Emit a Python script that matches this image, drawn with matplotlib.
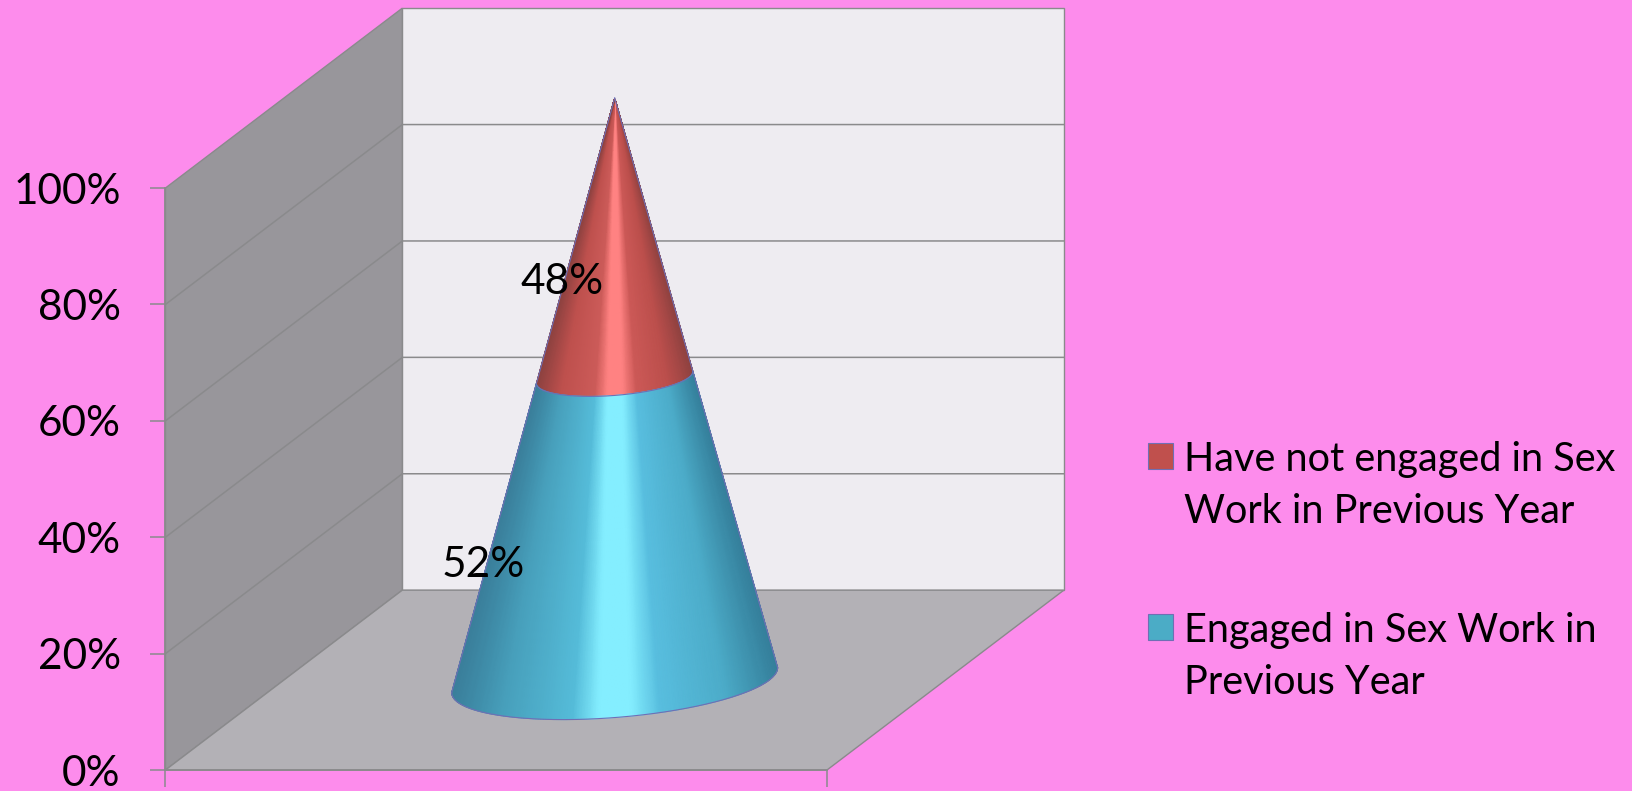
import numpy as np
import matplotlib
matplotlib.use("Agg")
import matplotlib.pyplot as plt
from matplotlib.colors import LinearSegmentedColormap
from matplotlib.legend_handler import HandlerPatch
from matplotlib.patches import Patch, Polygon, Rectangle

plt.rcParams['font.family'] = ['Lato', 'DejaVu Sans']

# chart values
series_names = ["Engaged in Sex Work in\nPrevious Year",
                "Have not engaged in Sex\nWork in Previous Year"]
series_values = [52, 48]
value_labels = ["52%", "48%"]
y_ticks = [0, 20, 40, 60, 80, 100]
y_tick_labels = ["0%", "20%", "40%", "60%", "80%", "100%"]

# looks
bg = "#FD8CEC"
back_wall = "#EEECF1"
side_wall = "#98969B"
floor = "#B3B1B6"
grid_col = "#8A8A8C"
blue = "#4BACC6"
red = "#C0504D"
blue_stops = [(0.0, "#35809C"), (0.07, "#3F93AF"), (0.16, "#4CACC9"), (0.36, "#58BEDF"), (0.45, "#84EEFF"),
              (0.55, "#84EEFF"), (0.63, "#55BCD9"), (0.85, "#479FBB"), (0.93, "#3F8DA9"), (1.0, "#3A7F9B")]
red_stops = [(0.0, "#8F4240"), (0.07, "#A54846"), (0.16, "#BC4F4C"), (0.36, "#CC5957"), (0.45, "#FF8282"),
             (0.55, "#FF8282"), (0.63, "#CC5B59"), (0.85, "#BE504D"), (0.93, "#A54846"), (1.0, "#8F4240")]

# oblique depth of the 3d box, in axis units
depth_x = 0.358
depth_y = 30.9
# base of the cone
half_x = 0.2464
tilt_y = 2.15
front_y = 6.44

fig = plt.figure(figsize=(16.33, 7.91), dpi=100, facecolor=bg)
ax = fig.add_axes([165.5 / 1633, 21 / 791, 661.5 / 1633, 582 / 791])
ax.patch.set_alpha(0)

# walls and floor
top = y_ticks[-1]
ax.add_patch(Polygon([(depth_x, depth_y), (1 + depth_x, depth_y), (1 + depth_x, top + depth_y), (depth_x, top + depth_y)],
                     fc=back_wall, ec=grid_col, lw=1, clip_on=False, zorder=1))
ax.add_patch(Polygon([(0, 0), (depth_x, depth_y), (depth_x, top + depth_y), (0, top)],
                     fc=side_wall, ec=grid_col, lw=1, clip_on=False, zorder=1))
ax.add_patch(Polygon([(0, 0), (1, 0), (1 + depth_x, depth_y), (depth_x, depth_y)],
                     fc=floor, ec=grid_col, lw=1, clip_on=False, zorder=1))
for t in y_ticks[1:-1]:
    ax.plot([0, depth_x, 1 + depth_x], [t, t + depth_y, t + depth_y], color=grid_col, lw=1.1,
            clip_on=False, zorder=2)


def cone_points(s, t):
    # s = 0 at the apex, s = 1 on the base edge
    cx, cy = 0.5 + depth_x / 2, depth_y / 2
    ax_x, ax_y = cx, top + depth_y / 2
    ex = cx + half_x * np.cos(t)
    ey = cy + tilt_y * np.cos(t) - front_y * np.sin(t)
    return ax_x + s * (ex - ax_x), ax_y + s * (ey - ax_y)


theta = np.linspace(0, np.pi, 181)
s_low = 0.0
segments = [(series_values[1], red_stops, 0), (series_values[0], blue_stops, 1)]
for val, stops, n in segments:
    s_high = s_low + val / 100
    s_grid, t_grid = np.meshgrid(np.linspace(max(s_low, 0.002), s_high, 30), theta)
    X, Y = cone_points(s_grid, t_grid)
    cmap = LinearSegmentedColormap.from_list("seg" + str(n), stops)
    mesh = ax.pcolormesh(X, Y, (1 - np.cos(t_grid)) / 2, cmap=cmap, vmin=0, vmax=1,
                         shading="gouraud", zorder=3)
    mesh.set_clip_on(False)
    # thin outline of the lower edge
    ex, ey = cone_points(s_high, theta)
    ax.plot(ex, ey, color="#6F6FB4", lw=0.8, clip_on=False, zorder=4)
    s_low = s_high

# cone sides
for tt in [0, np.pi]:
    ex, ey = cone_points(np.array([0.0, 1.0]), tt)
    ax.plot(ex, ey, color="#6F6FB4", lw=0.8, clip_on=False, zorder=4)

# value labels
ax.text(0.480, 35.3, value_labels[0], fontsize=30.5, ha="center", va="center", color="black", zorder=5, clip_on=False)
ax.text(0.599, 83.9, value_labels[1], fontsize=30.5, ha="center", va="center", color="black", zorder=5, clip_on=False)

# real axes
ax.set_xlim(0, 1)
ax.set_ylim(0, top)
ax.set_xticks([0, 1])
ax.set_xticklabels([])
ax.set_yticks(y_ticks)
ax.set_yticklabels(y_tick_labels, fontsize=30.5)
ax.tick_params(axis="y", length=10.8, width=1.1, color=grid_col, pad=21.5)
ax.tick_params(axis="x", length=12, width=1.1, color=grid_col)
for side in ["top", "right"]:
    ax.spines[side].set_visible(False)
for side in ["left", "bottom"]:
    ax.spines[side].set_color(grid_col)
    ax.spines[side].set_linewidth(1.3)


def top_swatch(legend, orig_handle, xdescent, ydescent, width, height, fontsize):
    # two line labels: keep the swatch next to the first line
    return Rectangle((-xdescent, -ydescent + 22), width, height)


handles = [Patch(fc=red, ec="#6F6FB4", lw=0.8), Patch(fc=blue, ec="#6F6FB4", lw=0.8)]
leg = ax.legend(handles, [series_names[1], series_names[0]], loc="upper left",
                bbox_to_anchor=(1148 / 1633, 1 - 441 / 791), bbox_transform=fig.transFigure,
                frameon=False, fontsize=28.5, labelspacing=2.09, handlelength=0.63, handleheight=0.63,
                handletextpad=0.27, borderaxespad=0, borderpad=0,
                handler_map={Patch: HandlerPatch(patch_func=top_swatch)})
for txt in leg.get_texts():
    txt.set_linespacing(1.49)

fig.savefig("out.png", dpi=100)
